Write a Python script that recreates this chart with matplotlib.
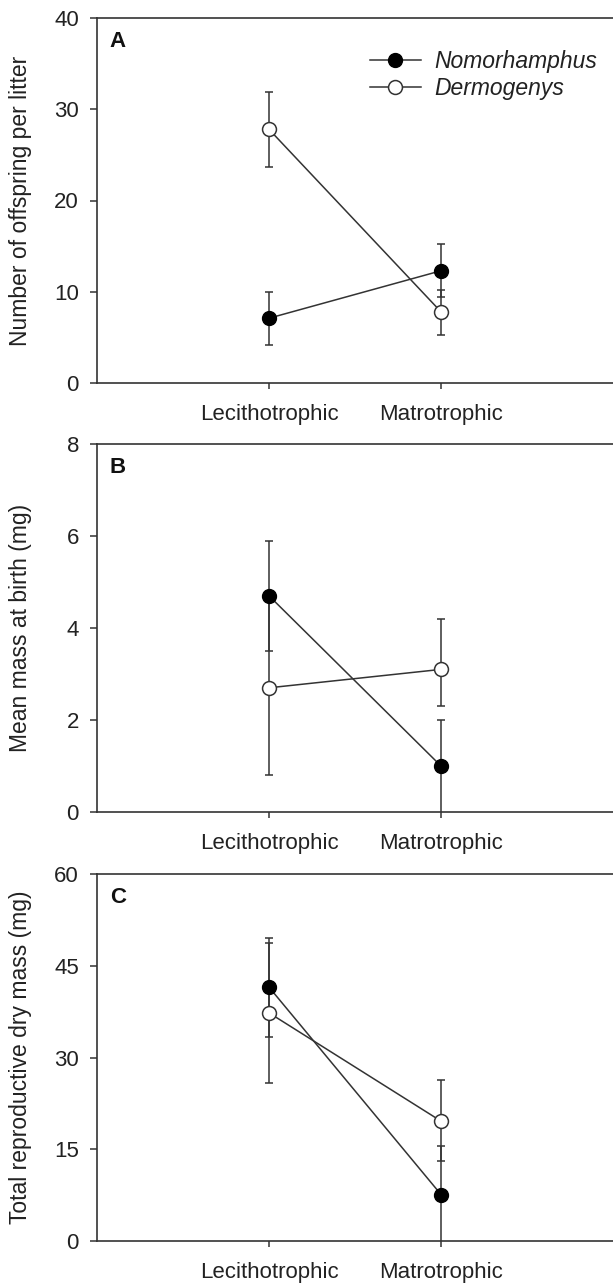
import numpy as np
import matplotlib.pyplot as plt

plt.rcParams['font.family'] = ['Liberation Sans', 'DejaVu Sans']

categories = ["Lecithotrophic", "Matrotrophic"]
species = ["Nomorhamphus", "Dermogenys"]

# Panel A - number of offspring per litter
a_nom = [7.1, 12.3]
a_nom_lo = [4.2, 9.4]
a_nom_hi = [10.0, 15.2]
a_der = [27.8, 7.8]
a_der_lo = [23.7, 5.3]
a_der_hi = [31.9, 10.2]

# Panel B - mean mass at birth (mg)
b_nom = [4.7, 1.0]
b_nom_lo = [3.5, -0.5]
b_nom_hi = [5.9, 2.0]
b_der = [2.7, 3.1]
b_der_lo = [0.8, 2.3]
b_der_hi = [4.6, 4.2]

# Panel C - total reproductive dry mass (mg)
c_nom = [41.5, 7.6]
c_nom_lo = [33.3, -0.5]
c_nom_hi = [49.6, 15.5]
c_der = [37.3, 19.6]
c_der_lo = [25.9, 13.1]
c_der_hi = [48.8, 26.3]

panels = [
    ("A", "Number of offspring per litter", [0, 10, 20, 30, 40],
     (a_nom, a_nom_lo, a_nom_hi), (a_der, a_der_lo, a_der_hi)),
    ("B", "Mean mass at birth (mg)", [0, 2, 4, 6, 8],
     (b_nom, b_nom_lo, b_nom_hi), (b_der, b_der_lo, b_der_hi)),
    ("C", "Total reproductive dry mass (mg)", [0, 15, 30, 45, 60],
     (c_nom, c_nom_lo, c_nom_hi), (c_der, c_der_lo, c_der_hi)),
]

W, H = 613, 1284
fig = plt.figure(figsize=(W / 100, H / 100), dpi=100)

# axes boxes in pixels: (top, bottom)
boxes = [(18, 383), (444, 812), (874, 1241)]
left_px = 97
col = "#333333"
fs = 16
x = np.array([1, 2])

for (top, bot), (letter, ylabel, yticks, nom, der) in zip(boxes, panels):
    ax = fig.add_axes([left_px / W, 1 - bot / H, 1 - left_px / W, (bot - top) / H])
    for mean, lo, hi in (nom, der):
        mean = np.array(mean)
        yerr = [mean - np.array(lo), np.array(hi) - mean]
        ax.errorbar(x, mean, yerr=yerr, fmt="none", ecolor=col, elinewidth=1.1,
                    capsize=2.8, capthick=1.1, zorder=1)
    ax.plot(x, nom[0], "-o", color=col, lw=1.1, ms=10, mfc="black", mec="black",
            zorder=3, label=species[0])
    ax.plot(x, der[0], "-o", color=col, lw=1.1, ms=10, mfc="white", mec=col,
            mew=1.1, zorder=3, label=species[1])

    ax.set_xlim(0, 3)
    ax.set_ylim(yticks[0], yticks[-1])
    ax.set_yticks(yticks)
    ax.set_xticks(x)
    ax.set_xticklabels(categories)
    ax.tick_params(axis="x", length=4, width=1.1, pad=11, labelsize=fs, colors=col,
                   labelcolor="#222222")
    ax.tick_params(axis="y", length=5, width=1.1, pad=8, labelsize=fs, colors=col,
                   labelcolor="#222222")
    ax.spines["right"].set_visible(False)
    for s in ("left", "bottom", "top"):
        ax.spines[s].set_color(col)
        ax.spines[s].set_linewidth(1.2)
    ax.set_ylabel(ylabel, fontsize=16.5, color="#222222")
    ax.yaxis.set_label_coords(-0.125, 0.5)
    ax.text(0.025, 0.935, letter, transform=ax.transAxes, fontsize=16,
            fontweight="bold", va="center", ha="left", color="#111111")

    if letter == "A":
        leg = ax.legend(loc="upper left", bbox_to_anchor=(0.506, 0.945),
                        frameon=False, fontsize=16.5, handlelength=2.26,
                        handletextpad=0.55, borderpad=0, labelspacing=0.2)
        for t in leg.get_texts():
            t.set_fontstyle("italic")
            t.set_color("#222222")

fig.savefig("out.png", dpi=100)
